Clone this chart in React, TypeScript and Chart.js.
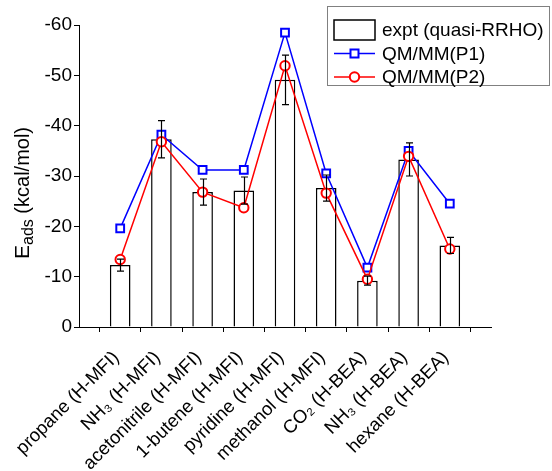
import React, { useEffect, useRef } from 'react';
import { Chart, registerables } from 'chart.js';

Chart.register(...registerables);

// ---------- data ----------
const categories = [
  'propane (H-MFI)',
  'NH₃ (H-MFI)',
  'acetonitrile (H-MFI)',
  '1-butene (H-MFI)',
  'pyridine (H-MFI)',
  'methanol (H-MFI)',
  'CO₂ (H-BEA)',
  'NH₃ (H-BEA)',
  'hexane (H-BEA)',
];
const exptValues = [-12.3, -37.3, -26.8, -27.1, -49.1, -27.6, -9.2, -33.3, -16.2];
const exptErrors = [1.2, 3.7, 2.6, 2.7, 4.9, 2.6, 0.9, 3.3, 1.6];
const p1Values = [-19.6, -38.2, -31.2, -31.2, -58.5, -30.5, -11.8, -35.0, -24.5];
const p2Values = [-13.4, -36.8, -26.8, -23.7, -51.9, -26.6, -9.5, -33.9, -15.5];
const yMin = -60;
const yMax = 0;
const yStep = 10;

const seriesNames = ['expt (quasi-RRHO)', 'QM/MM(P1)', 'QM/MM(P2)'];
const axisTitleMain = 'E';
const axisTitleSub = 'ads';
const axisTitleUnit = ' (kcal/mol)';

const FONT = '"Liberation Sans", Arial, sans-serif';
const BLUE = '#0000ff';
const RED = '#ff0000';

const padded = (arr: (number | null)[]) => [null, ...arr, null];
const labels = ['', ...categories, ''];

const errorBarPlugin = {
  id: 'errorBars',
  afterDatasetsDraw(chart: any) {
    const meta = chart.getDatasetMeta(0);
    const yScale = chart.scales.y;
    const ctx = chart.ctx;
    ctx.save();
    ctx.strokeStyle = '#000';
    ctx.lineWidth = 1.2;
    meta.data.forEach((el: any, i: number) => {
      const k = i - 1;
      if (k < 0 || k >= exptValues.length) return;
      const v = exptValues[k];
      const e = exptErrors[k];
      const x = Math.round(el.x) + 0.5;
      const y1 = yScale.getPixelForValue(v - e);
      const y2 = yScale.getPixelForValue(v + e);
      const cap = 3.5;
      ctx.beginPath();
      ctx.moveTo(x, y1);
      ctx.lineTo(x, y2);
      ctx.moveTo(x - cap, y1);
      ctx.lineTo(x + cap, y1);
      ctx.moveTo(x - cap, y2);
      ctx.lineTo(x + cap, y2);
      ctx.stroke();
    });
    ctx.restore();
  },
};

const titlePlugin = {
  id: 'yTitle',
  afterDraw(chart: any) {
    const ctx = chart.ctx;
    ctx.save();
    ctx.translate(29, 259);
    ctx.rotate(-Math.PI / 2);
    ctx.fillStyle = '#000';
    ctx.textBaseline = 'alphabetic';
    ctx.textAlign = 'left';
    ctx.font = `21px ${FONT}`;
    ctx.fillText(axisTitleMain, 0, 0);
    let x = ctx.measureText(axisTitleMain).width;
    ctx.font = `16px ${FONT}`;
    ctx.fillText(axisTitleSub, x, 4);
    x += ctx.measureText(axisTitleSub).width;
    ctx.font = `20px ${FONT}`;
    ctx.fillText(axisTitleUnit, x, 0);
    ctx.restore();
  },
};

const legendPlugin = {
  id: 'customLegend',
  afterDraw(chart: any) {
    const ctx = chart.ctx;
    ctx.save();
    const bx = 327.5, by = 6.5, bw = 222, bh = 79;
    ctx.fillStyle = '#fff';
    ctx.fillRect(bx, by, bw, bh);
    ctx.strokeStyle = '#808080';
    ctx.lineWidth = 1;
    ctx.strokeRect(bx, by, bw, bh);

    const x0 = 334, x1 = 375, xm = (x0 + x1) / 2;
    const tx = 382;
    const rows = [30, 53.5, 77];
    ctx.font = `19px ${FONT}`;
    ctx.textBaseline = 'middle';
    ctx.fillStyle = '#000';

    // row 1: bar
    ctx.strokeStyle = '#000';
    ctx.lineWidth = 1.5;
    ctx.strokeRect(x0, rows[0] - 10, x1 - x0, 20);
    ctx.fillText(seriesNames[0], tx, rows[0] + 1);

    // row 2: blue line + square
    ctx.strokeStyle = BLUE;
    ctx.lineWidth = 1.5;
    ctx.beginPath();
    ctx.moveTo(x0, rows[1]);
    ctx.lineTo(x1, rows[1]);
    ctx.stroke();
    ctx.fillStyle = '#fff';
    ctx.lineWidth = 2;
    ctx.fillRect(xm - 4, rows[1] - 4, 8, 8);
    ctx.strokeRect(xm - 4, rows[1] - 4, 8, 8);
    ctx.fillStyle = '#000';
    ctx.fillText(seriesNames[1], tx, rows[1] + 1);

    // row 3: red line + circle
    ctx.strokeStyle = RED;
    ctx.lineWidth = 1.5;
    ctx.beginPath();
    ctx.moveTo(x0, rows[2]);
    ctx.lineTo(x1, rows[2]);
    ctx.stroke();
    ctx.fillStyle = '#fff';
    ctx.lineWidth = 2;
    ctx.beginPath();
    ctx.arc(xm, rows[2], 4.7, 0, Math.PI * 2);
    ctx.fill();
    ctx.stroke();
    ctx.fillStyle = '#000';
    ctx.fillText(seriesNames[2], tx, rows[2] + 1);
    ctx.restore();
  },
};

export default function App() {
  const canvasRef = useRef<HTMLCanvasElement | null>(null);

  useEffect(() => {
    if (!canvasRef.current) return;
    const chart = new Chart(canvasRef.current, {
      type: 'bar',
      data: {
        labels,
        datasets: [
          {
            type: 'bar',
            label: seriesNames[0],
            data: padded(exptValues),
            backgroundColor: '#ffffff',
            borderColor: '#000000',
            borderWidth: 1.5,
            barPercentage: 0.5,
            categoryPercentage: 1,
            order: 3,
          } as any,
          {
            type: 'line',
            label: seriesNames[1],
            data: padded(p1Values),
            borderColor: BLUE,
            borderWidth: 1.5,
            pointStyle: 'rect',
            pointRadius: 5.5,
            pointBorderWidth: 2,
            pointBackgroundColor: '#ffffff',
            pointBorderColor: BLUE,
            tension: 0,
            order: 2,
          } as any,
          {
            type: 'line',
            label: seriesNames[2],
            data: padded(p2Values),
            borderColor: RED,
            borderWidth: 1.5,
            pointStyle: 'circle',
            pointRadius: 4.7,
            pointBorderWidth: 2,
            pointBackgroundColor: '#ffffff',
            pointBorderColor: RED,
            tension: 0,
            order: 1,
          } as any,
        ],
      },
      options: {
        animation: false,
        responsive: false,
        maintainAspectRatio: false,
        layout: { padding: { left: 0, top: 25, right: 61, bottom: 0 } },
        plugins: {
          legend: { display: false },
          tooltip: { enabled: false },
          title: { display: false },
        },
        scales: {
          x: {
            type: 'category',
            offset: false,
            grid: {
              drawOnChartArea: false,
              drawTicks: true,
              tickLength: 5,
              color: '#000',
              lineWidth: 1,
            },
            border: { color: '#000', width: 1 },
            ticks: {
              autoSkip: false,
              minRotation: 45,
              maxRotation: 45,
              color: '#000',
              font: { family: FONT, size: 18.5 },
              padding: 15,
              labelOffset: -4,
            },
            afterFit: (scale: any) => {
              scale.height = 144;
            },
          },
          y: {
            type: 'linear',
            min: yMin,
            max: yMax,
            reverse: true,
            grid: {
              drawOnChartArea: false,
              drawTicks: true,
              tickLength: 5,
              color: '#000',
              lineWidth: 1,
            },
            border: { color: '#000', width: 1 },
            ticks: {
              stepSize: yStep,
              color: '#000',
              font: { family: FONT, size: 19 },
              padding: 2,
            },
            afterFit: (scale: any) => {
              scale.width = 79;
            },
          },
        },
      } as any,
      plugins: [errorBarPlugin, titlePlugin, legendPlugin],
    });
    return () => chart.destroy();
  }, []);

  return (
    <div style={{ position: 'absolute', left: 0, top: 0, width: 552, height: 471, background: '#fff' }}>
      <canvas ref={canvasRef} width={552} height={471} style={{ display: 'block' }} />
    </div>
  );
}
